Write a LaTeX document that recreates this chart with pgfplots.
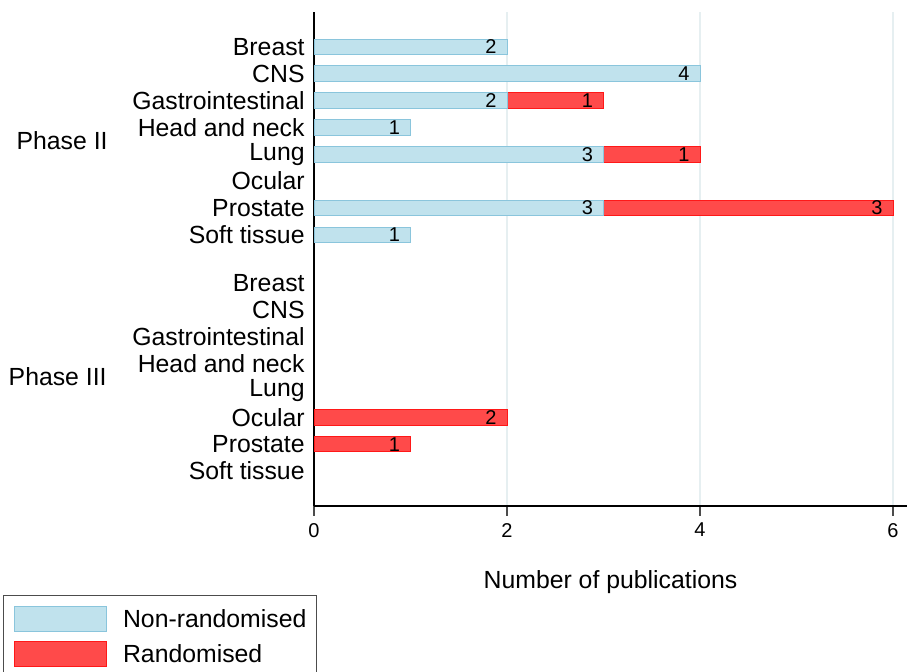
\documentclass[border=0pt]{standalone}
\usepackage{fontspec}
\setmainfont{Liberation Sans}
\usepackage{pgfplots}
\usepackage{pgfplotstable}
\pgfplotsset{compat=1.18}

\definecolor{nonrand}{RGB}{192,226,237}
\definecolor{nonrandedge}{RGB}{138,197,220}
\definecolor{randfill}{RGB}{255,74,74}
\definecolor{randedge}{RGB}{255,24,24}
\definecolor{gridc}{RGB}{230,239,241}

% row position (top to bottom: Phase II at 15.8..8.8, Phase III at 7..0), count
\pgfplotstableread{
pos n
15.8 2
14.8 4
13.8 2
12.8 1
11.8 3
9.8 3
8.8 1
}\nonrandtab

% randomised bars sit after the non-randomised ones (base)
\pgfplotstableread{
pos base n
13.8 2 1
11.8 3 1
9.8 3 3
2 0 2
1 0 1
}\randtab

\newcommand{\labfont}{\fontsize{12.4}{14}\selectfont}
\newcommand{\numfont}{\fontsize{10}{12}\selectfont}

\begin{document}
\begin{tikzpicture}
\path[use as bounding box] (0,0) rectangle (454.5pt,336pt);
\begin{axis}[
  at={(157pt,83pt)}, anchor=south west,
  scale only axis, width=296.5pt, height=247pt,
  xmin=0, xmax=6.145, ymin=-1.3, ymax=17.1,
  clip=false,
  xbar, bar width=7.75pt, bar shift=0pt,
  axis x line=bottom, axis y line=left,
  axis line style={-, black, line width=0.8pt},
  xtick={0,2,4,6},
  xmajorgrids, grid style={gridc, line width=1pt},
  tick align=outside,
  x tick style={black!70, line width=0.6pt},
  major tick length=5pt,
  ytick={0,1,2,3,4,5,6,7,8.8,9.8,10.8,11.8,12.8,13.8,14.8,15.8},
  yticklabels={Soft tissue,Prostate,Ocular,Lung,Head and neck,Gastrointestinal,CNS,Breast,
    Soft tissue,Prostate,Ocular,Lung,Head and neck,Gastrointestinal,CNS,Breast},
  y tick style={draw=none},
  yticklabel style={font=\labfont, anchor=east, inner sep=0pt, xshift=0.5pt},
  xticklabel style={font=\numfont},
  /pgf/number format/assume math mode=true,
  every axis x label/.style={at={(axis description cs:0.5,0)}, anchor=center, yshift=-38pt, font=\labfont},
  xlabel={Number of publications},
  legend image code/.code={\draw[#1, line width=0.5pt] (0pt,-6.25pt) rectangle (46.3pt,6.25pt);},
  reverse legend,
  legend cell align=left,
  legend style={at={(-0.5245,-0.1802)}, anchor=north west,
    draw=black!70, line width=0.5pt, font=\labfont,
    inner xsep=5.2pt, inner ysep=5pt, row sep=4.65pt,
    nodes={inner sep=0pt, text depth=0pt},
    /tikz/every odd column/.append style={column sep=7.8pt}},
  nodes near coords={\pgfmathprintnumber{\pgfplotspointmeta}},
  every node near coord/.append style={anchor=east, xshift=-5pt, inner sep=0pt, font=\numfont, text=black},
]
\addplot[fill=randfill, draw=randedge, line width=0.5pt, point meta=explicit]
  table[y=pos, x expr=\thisrow{base}+\thisrow{n}, meta=n] {\randtab};
\addlegendentry{Randomised}
\addplot[fill=nonrand, draw=nonrandedge, line width=0.5pt, point meta=explicit]
  table[y=pos, x=n, meta=n] {\nonrandtab};
\addlegendentry{Non-randomised}

\node[anchor=east, inner sep=0pt, font=\labfont, xshift=-103pt] at (axis cs:0,12.3) {Phase II};
\node[anchor=east, inner sep=0pt, font=\labfont, xshift=-103.5pt] at (axis cs:0,3.5) {Phase III};
\end{axis}
\end{tikzpicture}
\end{document}
